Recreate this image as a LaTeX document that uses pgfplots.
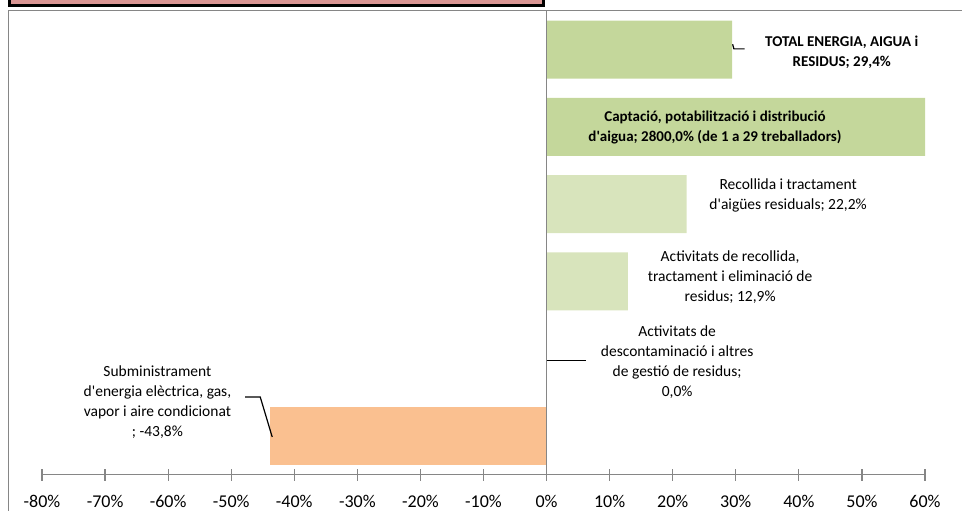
\documentclass[border=0pt]{standalone}
\usepackage{pgfplots}
\pgfplotsset{compat=1.18}
\usepackage{fontspec}
\setmainfont{Carlito}
\definecolor{verdA}{HTML}{C4D79B}
\definecolor{verdB}{HTML}{D8E4BC}
\definecolor{taronja}{HTML}{FAC090}
\definecolor{rosa}{HTML}{DA9694}
\definecolor{gris}{HTML}{868686}
\newcommand{\ap}{\textquotesingle}
\begin{document}
\begin{tikzpicture}[lbl/.style={align=center,font=\fontsize{15.5bp}{20bp}\selectfont,inner sep=0pt}]
\useasboundingbox (0,0) rectangle (962bp,511bp);
\clip (0,0) rectangle (962bp,511bp);
% chart frame (cut by the picture's edges)
\draw[gris,line width=1.3bp] (8.5bp,-5bp) -- (8.5bp,500.5bp) -- (975bp,500.5bp);
% title box, mostly cut off
\draw[black,fill=rosa,line width=3bp] (9.5bp,505.5bp) rectangle (543.5bp,530bp);
\begin{axis}[at={(42bp,36.4bp)},anchor=south west,scale only axis,
  width=883bp,height=463.6bp,
  xbar,bar width=58bp,bar shift=0pt,
  xmin=-80,xmax=60,ymin=-0.5,ymax=5.5,
  axis x line=bottom,axis y line=none,axis line style={-,gris,line width=1.2bp},
  xtick={-80,-70,...,60},ytick=\empty,
  tick align=center,major tick length=12bp,tick style={gris,line width=1.2bp},
  xticklabel={\pgfmathprintnumber{\tick}\%},
  /pgf/number format/assume math mode=true,
  xticklabel style={font=\fontsize{18bp}{20bp}\selectfont,yshift=-11bp},
  clip=false]
% 5 TOTAL, 4 Captacio, 3 Recollida aigues, 2 Residus, 1 Descontaminacio, 0 Subministrament
\addplot[fill=verdA,draw=none] coordinates {(29.4,5) (60,4)}; % 2800,0% cut at the axis end
\addplot[fill=verdB,draw=none] coordinates {(22.2,3) (12.9,2) (0,1)};
\addplot[fill=taronja,draw=none] coordinates {(-43.8,0)};
\draw[gris,line width=1.2bp] (axis cs:0,-0.5) -- (axis cs:0,5.5);
% data labels
\node[lbl,font=\bfseries\fontsize{15bp}{20bp}\selectfont] at (axis cs:46.8,4.96) {TOTAL ENERGIA, AIGUA i\\RESIDUS; 29,4\%};
\node[lbl,font=\bfseries\fontsize{15bp}{20bp}\selectfont] at (axis cs:26.7,3.99) {Captació, potabilització i distribució\\d\ap aigua; 2800,0\% (de 1 a 29 treballadors)};
\node[lbl] at (axis cs:38.3,3.11) {Recollida i tractament\\d\ap aigües residuals; 22,2\%};
\node[lbl] at (axis cs:29.1,2.06) {Activitats de recollida,\\tractament i eliminació de\\residus; 12,9\%};
\node[lbl] at (axis cs:20.7,0.96) {Activitats de\\descontaminació i altres\\de gestió de residus;\\0,0\%};
\node[lbl] at (axis cs:-61.7,0.44) {Subministrament\\d\ap energia elèctrica, gas,\\vapor i aire condicionat\\; -43,8\%};
% leader lines
\draw[black,line width=1.2bp] (axis cs:29.5,5.07) -- (axis cs:29.7,5.01) -- (axis cs:31.4,5.01);
\draw[black,line width=1.2bp] (axis cs:0,0.98) -- (axis cs:6.25,0.98);
\draw[black,line width=1.2bp] (axis cs:-47.8,0.505) -- (axis cs:-45.4,0.505) -- (axis cs:-43.5,-0.013);
\end{axis}
\end{tikzpicture}
\end{document}
